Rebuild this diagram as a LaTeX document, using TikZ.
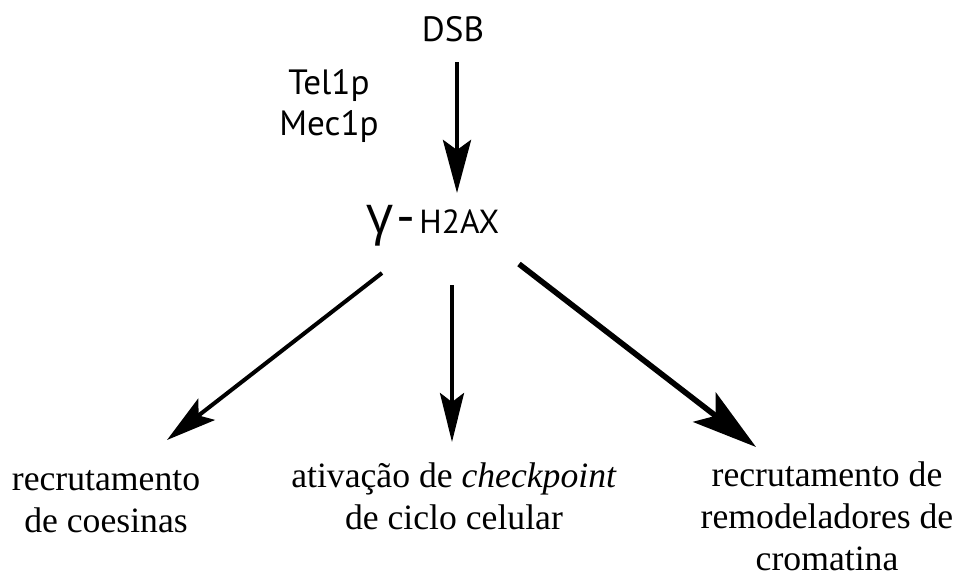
\documentclass[tikz,border=0pt]{standalone}
\usepackage{fontspec}
\setmainfont{Liberation Serif}
\newfontfamily\labelsans{PT Sans}
\newfontfamily\greeksans{Open Sans}
\usetikzlibrary{arrows.meta,positioning}

\begin{document}
\begin{tikzpicture}[x=0.02cm,y=-0.02cm,inner sep=0pt,
    sanslabel/.style={font=\labelsans\fontsize{20}{22.8}\selectfont,align=center},
    outcome/.style={font=\fontsize{20.3}{23.9}\selectfont,align=center,anchor=base},
    flow/.style n args={4}{line width=#1,-{Stealth[length=#2,width=#3,inset=#4]}}]
                \useasboundingbox (0,0) rectangle (960,578);
                \node[sanslabel,anchor=base] (dsb) at (453,41) {DSB};
                \node[sanslabel,anchor=base] (kin) at (329,135) {Tel1p\\Mec1p};
                \node[anchor=base west] (gh) at (366,233)
                    {{\greeksans\fontsize{30}{30}\selectfont γ\kern0.08em-}\kern0.28em{\labelsans\fontsize{19}{20}\selectfont H2AX}};
                \node[outcome] (coes) at (106,532) {recrutamento\\de coesinas};
                \node[outcome] (chk) at (454,529) {ativação de \textit{checkpoint}\\de ciclo celular};
                \node[outcome] (remod) at (827,570) {recrutamento de\\remodeladores de\\cromatina};
                % setas
                \draw[flow={2.8pt}{1.06cm}{0.56cm}{0.2cm}] ([shift={(4,21)}]dsb.base) -- ([shift={(91,-40)}]gh.base west);
                \draw[flow={2.3pt}{1.0cm}{0.54cm}{0.2cm}] ([shift={(16,40)}]gh.base west) -- ([shift={(61,-92)}]coes.base);
                \draw[flow={2.2pt}{0.98cm}{0.48cm}{0.18cm}] ([shift={(86,52)}]gh.base west) -- ([shift={(-2,-87)}]chk.base);
                \draw[flow={3.2pt}{1.3cm}{0.74cm}{0.28cm}] ([shift={(153,31)}]gh.base west) -- ([shift={(-71,-123)}]remod.base);
\end{tikzpicture}
\end{document}
